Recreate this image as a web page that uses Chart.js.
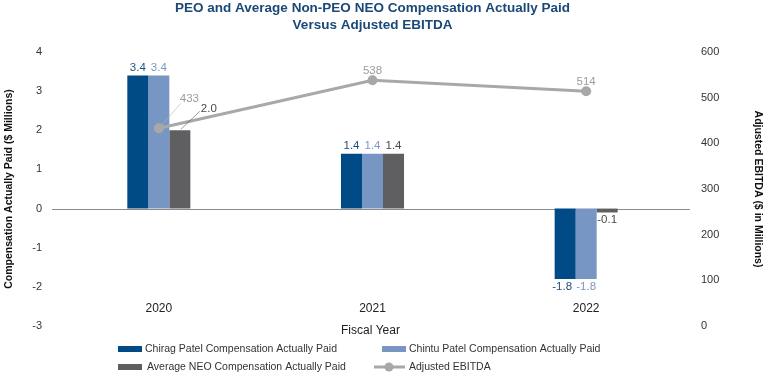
<!DOCTYPE html>
<html>
<head>
<meta charset="utf-8">
<script src="https://cdn.jsdelivr.net/npm/chart.js@4"></script>
<style>
  html, body { margin: 0; padding: 0; background: #fff; }
  #wrap { width: 768px; height: 374px; position: relative; }
</style>
</head>
<body>
<div id="wrap"><canvas id="cap"></canvas></div>
<script>
// chart values
const years = ['2020', '2021', '2022'];
const chiragCap = [3.4, 1.4, -1.8];
const chintuCap = [3.4, 1.4, -1.8];
const avgNeoCap = [2.0, 1.4, -0.1];
const adjEbitda = [433, 538, 514];
const leftTicks = [-3, -2, -1, 0, 1, 2, 3, 4];
const rightTicks = [0, 100, 200, 300, 400, 500, 600];

const FONT = '"Liberation Sans", Arial, Helvetica, sans-serif';
const NAVY = '#004a86';
const LIGHT = '#7896c3';
const GREY = '#5f5f61';
const LINE = '#a8a8a8';

// draws title, zero line, value labels, year labels and the legend
const extras = {
    id: 'extras',
    beforeDatasetsDraw(chart) {
        const ctx = chart.ctx;
        const a = chart.chartArea;
        const y0 = chart.scales.y.getPixelForValue(0);
        ctx.save();
        ctx.strokeStyle = '#8a8a8a';
        ctx.lineWidth = 1;
        ctx.beginPath();
        ctx.moveTo(a.left, Math.round(y0) + 0.5);
        ctx.lineTo(a.right - 3, Math.round(y0) + 0.5);
        ctx.stroke();
        ctx.restore();
    },
    afterDraw(chart) {
        const ctx = chart.ctx;
        const a = chart.chartArea;
        const mid = (a.left + a.right) / 2;
        ctx.save();

        // title
        ctx.fillStyle = '#1a4877';
        ctx.font = 'bold 13.5px ' + FONT;
        ctx.textAlign = 'center';
        ctx.textBaseline = 'middle';
        ctx.fillText('PEO and Average Non-PEO NEO Compensation Actually Paid', mid, 8);
        ctx.fillText('Versus Adjusted EBITDA', mid, 25);

        // bar value labels
        ctx.font = '11.5px ' + FONT;
        const labelColors = ['#1f4f80', '#7c98c2', '#4a4a4a'];
        [0, 1, 2].forEach(di => {
            const meta = chart.getDatasetMeta(di);
            const vals = chart.data.datasets[di].data;
            meta.data.forEach((bar, i) => {
                const v = vals[i];
                const txt = v.toFixed(1);
                ctx.fillStyle = labelColors[di];
                if (di === 2 && i === 0) {
                    // leader line for the 2020 average bar
                    ctx.strokeStyle = '#555';
                    ctx.lineWidth = 0.6;
                    ctx.beginPath();
                    ctx.moveTo(bar.x + 1, bar.y - 1);
                    ctx.lineTo(bar.x + 20, bar.y - 19);
                    ctx.stroke();
                    ctx.textAlign = 'left';
                    ctx.textBaseline = 'middle';
                    ctx.fillText(txt, bar.x + 21, bar.y - 21);
                    return;
                }
                ctx.textAlign = 'center';
                if (v >= 0) {
                    ctx.textBaseline = 'bottom';
                    ctx.fillText(txt, bar.x, bar.y - 2);
                } else {
                    ctx.textBaseline = 'top';
                    ctx.fillText(txt, bar.x - (di === 0 ? 3 : 0), bar.y + 2);
                }
            });
        });

        // EBITDA labels
        const lm = chart.getDatasetMeta(3);
        ctx.fillStyle = '#9c9c9c';
        lm.data.forEach((pt, i) => {
            const txt = String(adjEbitda[i]);
            if (i === 0) {
                ctx.strokeStyle = '#b5b5b5';
                ctx.lineWidth = 0.6;
                ctx.beginPath();
                ctx.moveTo(pt.x + 2, pt.y - 2);
                ctx.lineTo(pt.x + 22, pt.y - 25);
                ctx.stroke();
                ctx.textAlign = 'left';
                ctx.textBaseline = 'middle';
                ctx.fillText(txt, pt.x + 21, pt.y - 29);
            } else {
                ctx.textAlign = 'center';
                ctx.textBaseline = 'bottom';
                ctx.fillText(txt, pt.x, pt.y - 4);
            }
        });

        // year labels inside the plot
        const xs = chart.scales.x;
        const yl = chart.scales.y.getPixelForValue(-2.55);
        ctx.fillStyle = '#222';
        ctx.font = '12px ' + FONT;
        ctx.textAlign = 'center';
        ctx.textBaseline = 'middle';
        years.forEach((yr, i) => ctx.fillText(yr, xs.getPixelForValue(i), yl));
        ctx.fillText('Fiscal Year', mid - 2, a.bottom + 5);

        // legend
        ctx.font = '10.5px ' + FONT;
        ctx.textAlign = 'left';
        const items = chart.data.datasets;
        const pos = [[118, 349], [382, 349], [118, 367], [374, 367]];
        items.forEach((ds, i) => {
            const [x, y] = pos[i];
            let tx;
            if (ds.type === 'line') {
                ctx.strokeStyle = ds.borderColor;
                ctx.lineWidth = 3;
                ctx.beginPath();
                ctx.moveTo(x, y);
                ctx.lineTo(x + 31, y);
                ctx.stroke();
                ctx.fillStyle = ds.borderColor;
                ctx.beginPath();
                ctx.arc(x + 15, y, 4.5, 0, Math.PI * 2);
                ctx.fill();
                tx = x + 35;
            } else {
                ctx.fillStyle = ds.backgroundColor;
                ctx.fillRect(x, y - 3, 24, 6);
                tx = x + 27 + (i === 2 ? 2 : 0);
            }
            ctx.fillStyle = '#333';
            ctx.fillText(ds.label, tx, y);
        });
        ctx.restore();
    }
};

new Chart(document.getElementById('cap'), {
    data: {
        labels: years,
        datasets: [
            { type: 'bar', label: 'Chirag Patel Compensation Actually Paid', data: chiragCap,
              backgroundColor: NAVY, yAxisID: 'y', order: 1 },
            { type: 'bar', label: 'Chintu Patel Compensation Actually Paid', data: chintuCap,
              backgroundColor: LIGHT, yAxisID: 'y', order: 1 },
            { type: 'bar', label: 'Average NEO Compensation Actually Paid', data: avgNeoCap,
              backgroundColor: GREY, yAxisID: 'y', order: 1 },
            { type: 'line', label: 'Adjusted EBITDA', data: adjEbitda, yAxisID: 'y1', order: 0,
              borderColor: LINE, backgroundColor: LINE, borderWidth: 3,
              pointRadius: 5, pointBackgroundColor: LINE, pointBorderWidth: 0, tension: 0 }
        ]
    },
    options: {
        responsive: true,
        maintainAspectRatio: false,
        animation: false,
        layout: { padding: { top: 52, bottom: 48, left: 0, right: 0 } },
        datasets: { bar: { barPercentage: 1, categoryPercentage: 0.295 } },
        plugins: { legend: { display: false }, title: { display: false }, tooltip: { enabled: false } },
        scales: {
            x: { display: false, offset: true, grid: { display: false } },
            y: {
                position: 'left', min: -3, max: 4,
                afterBuildTicks: s => { s.ticks = leftTicks.map(v => ({ value: v })); },
                afterFit: s => { s.width = 52; },
                grid: { display: false }, border: { display: false },
                ticks: { color: '#333', font: { family: FONT, size: 11 }, padding: 2 },
                title: { display: true, text: 'Compensation Actually Paid ($ Millions)', color: '#111',
                         font: { family: FONT, size: 10.5, weight: 'bold' }, padding: 3 }
            },
            y1: {
                position: 'right', min: 0, max: 600,
                afterBuildTicks: s => { s.ticks = rightTicks.map(v => ({ value: v })); },
                afterFit: s => { s.width = 75; },
                grid: { display: false }, border: { display: false },
                ticks: { color: '#333', font: { family: FONT, size: 11 }, padding: 0 },
                title: { display: true, text: 'Adjusted EBITDA ($ in Millions)', color: '#111',
                         font: { family: FONT, size: 10.5, weight: 'bold' }, padding: 4 }
            }
        }
    },
    plugins: [extras]
});
</script>
</body>
</html>
